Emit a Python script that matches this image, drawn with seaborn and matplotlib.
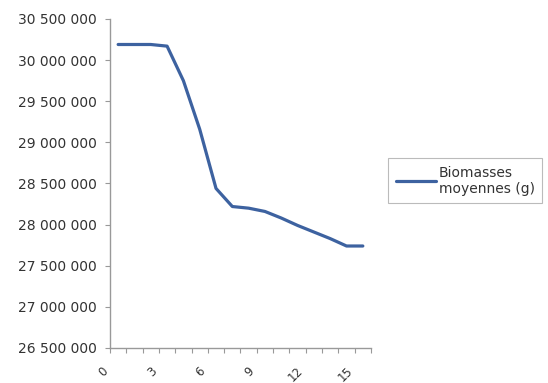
import matplotlib
matplotlib.use("Agg")
import matplotlib.pyplot as plt
import matplotlib.transforms as mtransforms
from matplotlib.ticker import FuncFormatter, FixedLocator
import seaborn as sns

# values
days = list(range(16))
biomass = [30190000, 30190000, 30190000, 30170000, 29750000, 29160000,
           28440000, 28220000, 28200000, 28160000, 28080000, 27990000,
           27910000, 27830000, 27740000, 27740000]
series_label = "Biomasses\nmoyennes (g)"
y_ticks = [26500000 + 500000 * i for i in range(9)]
x_labels = [0, 3, 6, 9, 12, 15]

sns.set_style("white")
plt.rcParams["font.family"] = ["DejaVu Sans"]

fig = plt.figure(figsize=(5.48, 3.83), dpi=100)
ax = fig.add_axes([0.2007, 0.0914, 0.4763, 0.8590])

sns.lineplot(x=days, y=biomass, ax=ax, color="#3d62a0", linewidth=2.3,
             label=series_label)

ax.set_xlim(-0.5, 15.5)
ax.set_ylim(26500000, 30500000)
ax.set_yticks(y_ticks)
ax.yaxis.set_major_formatter(FuncFormatter(lambda v, p: f"{int(v):,}".replace(",", " ")))

ax.set_xticks(x_labels)
ax.set_xticklabels([str(v) for v in x_labels], rotation=45, ha="right", va="top")
ax.xaxis.set_minor_locator(FixedLocator([i - 0.5 for i in range(17)]))
ax.tick_params(axis="x", which="major", bottom=True, length=0, pad=12,
               labelsize=8.5, labelcolor="#333333")
ax.tick_params(axis="x", which="minor", bottom=True, length=3.5, width=0.8,
               color="#999999", direction="out")
ax.tick_params(axis="y", which="major", left=True, length=3.5, width=0.8, color="#999999",
               direction="out", pad=6, labelsize=10, labelcolor="#333333")
offset = mtransforms.ScaledTranslation(-8 / 100, 0, fig.dpi_scale_trans)
for lbl in ax.get_xticklabels():
    lbl.set_transform(lbl.get_transform() + offset)

sns.despine(ax=ax)
for side in ["left", "bottom"]:
    ax.spines[side].set_color("#999999")
    ax.spines[side].set_linewidth(1.0)
ax.set_xlabel("")
ax.set_ylabel("")

leg = ax.legend(loc="upper left", bbox_to_anchor=(0.708, 0.5875),
                bbox_transform=fig.transFigure, borderaxespad=0,
                fancybox=False, frameon=True, fontsize=10, handlelength=2.9,
                handletextpad=0.2, borderpad=0.55, labelspacing=0.2)
leg.get_frame().set_edgecolor("#aaaaaa")
leg.get_frame().set_linewidth(0.8)
for t in leg.get_texts():
    t.set_color("#333333")

fig.savefig("out.png", dpi=100)
